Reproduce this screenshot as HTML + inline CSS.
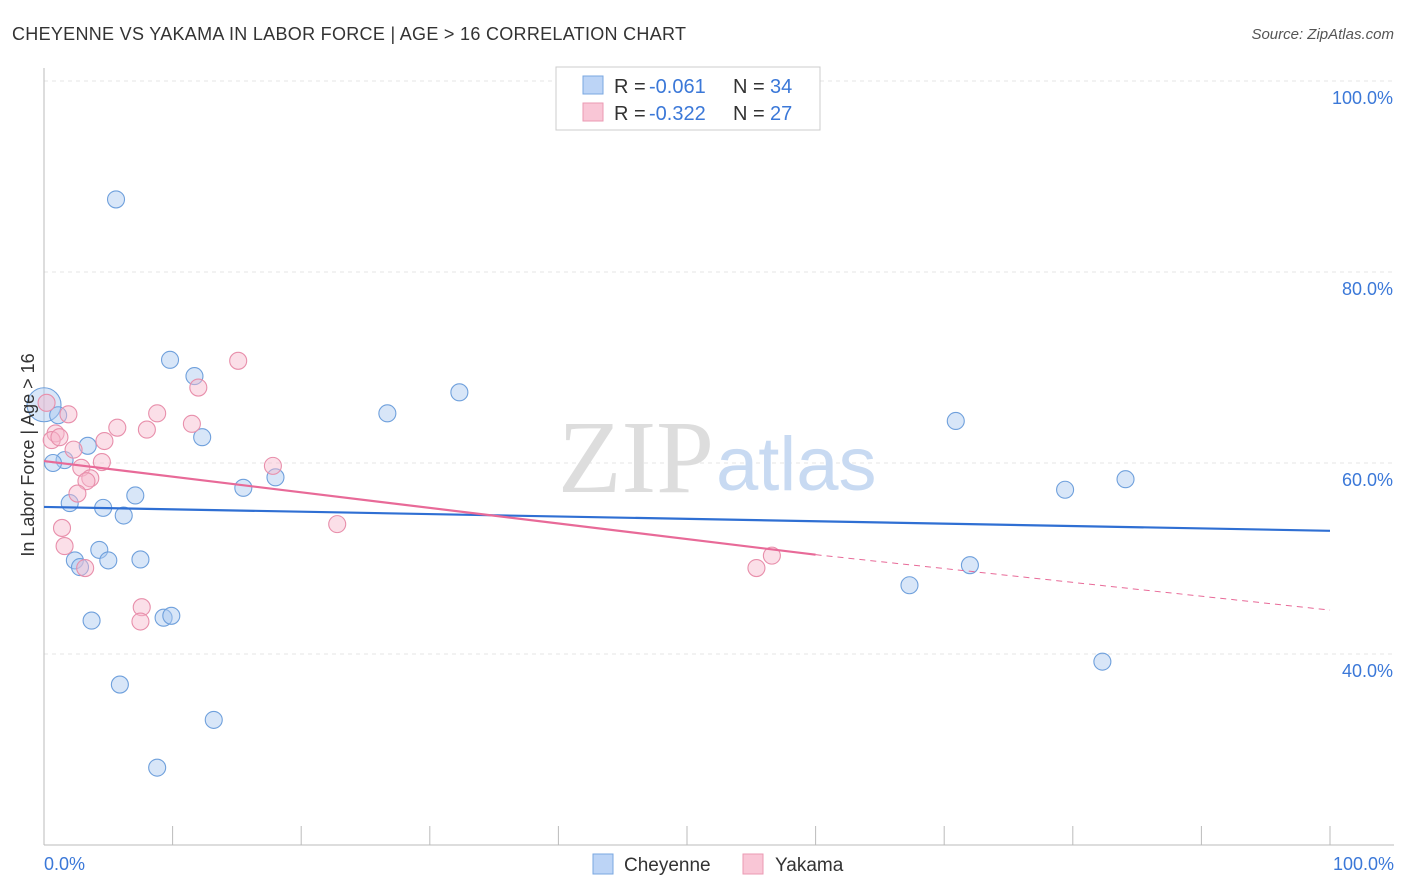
<!DOCTYPE html>
<html><head><meta charset="utf-8"><style>
body{margin:0;background:#fff;font-family:"Liberation Sans",sans-serif;}
svg{display:block}
</style></head><body>
<svg width="1406" height="892" xmlns="http://www.w3.org/2000/svg">
<text x="12" y="40" font-size="18" fill="#333" textLength="674">CHEYENNE VS YAKAMA IN LABOR FORCE | AGE &gt; 16 CORRELATION CHART</text>
<text x="1394" y="39" font-size="15" fill="#555" font-style="italic" text-anchor="end">Source: ZipAtlas.com</text>
<g id="grid"></g>
<g id="axes"></g>
<text x="714" y="492" font-size="104" font-family="Liberation Serif" fill="#ddd" text-anchor="end">ZIP</text>
<text x="716" y="490" font-size="76" fill="#c8daf2">atlas</text>
<g id="pts"></g>
<g id="trend"></g>
<text x="34" y="455" font-size="18" fill="#333" text-anchor="middle" transform="rotate(-90 34 455)">In Labor Force | Age &gt; 16</text>
<g>
<rect x="556" y="67" width="264" height="63" fill="#fff" stroke="#ccc"/>
<rect x="583" y="76" width="20" height="18" fill="#bcd4f6" stroke="#7aa7e0"/>
<rect x="583" y="103" width="20" height="18" fill="#f9c6d6" stroke="#eb9ab3"/>
<text x="614" y="93" font-size="20" fill="#333">R =</text>
<text x="649" y="93" font-size="20" fill="#3b78d8">-0.061</text>
<text x="733" y="93" font-size="20" fill="#333">N =</text>
<text x="770" y="93" font-size="20" fill="#3b78d8">34</text>
<text x="614" y="120" font-size="20" fill="#333">R =</text>
<text x="649" y="120" font-size="20" fill="#3b78d8">-0.322</text>
<text x="733" y="120" font-size="20" fill="#333">N =</text>
<text x="770" y="120" font-size="20" fill="#3b78d8">27</text>
</g>
<g>
<rect x="593" y="854" width="20" height="20" fill="#bcd4f6" stroke="#7aa7e0"/>
<text x="624" y="871" font-size="19" fill="#333">Cheyenne</text>
<rect x="743" y="854" width="20" height="20" fill="#f9c6d6" stroke="#eb9ab3"/>
<text x="775" y="871" font-size="19" fill="#333">Yakama</text>
</g>
<text x="44" y="870" font-size="18" fill="#3b78d8">0.0%</text>
<text x="1394" y="870" font-size="18" fill="#3b78d8" text-anchor="end">100.0%</text>
</svg>
<script>
const yTicks=[40,60,80,100];
const xTicks=[0,10,20,30,40,50,60,70,80,90,100];
const cheyX=[5.6,9.8,11.7,12.3,0,1.1,3.4,1.6,0.7,2.0,4.6,6.2,7.1,15.5,18.0,26.7,32.3,4.3,2.4,2.8,5.0,7.5,3.7,9.3,9.9,5.9,13.2,8.8,70.9,79.4,84.1,67.3,72.0,82.3];
const cheyY=[87.6,70.8,69.1,62.7,66.1,65.0,61.8,60.3,60.0,55.8,55.3,54.5,56.6,57.4,58.5,65.2,67.4,50.9,49.8,49.1,49.8,49.9,43.5,43.8,44.0,36.8,33.1,28.1,64.4,57.2,58.3,47.2,49.3,39.2];
const yakX=[15.1,12.0,8.8,11.5,8.0,5.7,4.7,1.9,0.9,0.6,1.2,2.3,4.5,2.9,3.6,3.3,2.6,17.8,1.4,1.6,3.2,7.6,7.5,22.8,56.6,55.4,0.2];
const yakY=[70.7,67.9,65.2,64.1,63.5,63.7,62.3,65.1,63.1,62.4,62.7,61.4,60.1,59.5,58.4,58.1,56.8,59.7,53.2,51.3,49.0,44.9,43.4,53.6,50.3,49.0,66.3];
const cheyTrend=[[0,55.4],[100,52.9]];
const yakTrend=[[0,60.2],[60,50.4],[100,44.6]];
const NS="http://www.w3.org/2000/svg";
const X=v=>44+v*12.86, Y=v=>654-(v-40)*9.55;
function mk(t,a,p){const e=document.createElementNS(NS,t);for(const k in a)e.setAttribute(k,a[k]);document.getElementById(p).appendChild(e);return e;}
yTicks.forEach(t=>{
 const l=mk('line',{x1:44,x2:1394,y1:Y(t),y2:Y(t),stroke:'#e6e6e6','stroke-dasharray':'4 4'},'grid');
 
 
 const tx=mk('text',{x:1393,y:Y(t)+23,'font-size':18,fill:'#3b78d8','text-anchor':'end'},'grid');
 tx.textContent=t.toFixed(1)+'%';
 
 
});
mk('line',{x1:44,x2:44,y1:68,y2:845,stroke:'#bbb'},'axes');
mk('line',{x1:44,x2:1394,y1:845,y2:845,stroke:'#bbb'},'axes');
xTicks.forEach(t=>{const l=mk('line',{x1:X(t),x2:X(t),y1:826,y2:845,stroke:'#bbb'},'axes');
 
 });
function pts(xs,ys,f,s,n){xs.forEach((x,i)=>{const c=mk('circle',{cx:X(x),cy:Y(ys[i]),r:(x===0&&n==='cheyenne')?17:8.5,fill:f,'fill-opacity':0.45,stroke:s,'stroke-width':1.1},'pts');
 
 });}
pts(cheyX,cheyY,'#a9c8f0','#6fa0dc','cheyenne');
pts(yakX,yakY,'#f7b9cc','#e88fab','yakama');
let l=mk('line',{x1:X(cheyTrend[0][0]),y1:Y(cheyTrend[0][1]),x2:X(cheyTrend[1][0]),y2:Y(cheyTrend[1][1]),stroke:'#2f6fd3','stroke-width':2.2},'trend');


l=mk('line',{x1:X(yakTrend[0][0]),y1:Y(yakTrend[0][1]),x2:X(yakTrend[1][0]),y2:Y(yakTrend[1][1]),stroke:'#e86a98','stroke-width':2.2},'trend');


l=mk('line',{x1:X(yakTrend[1][0]),y1:Y(yakTrend[1][1]),x2:X(yakTrend[2][0]),y2:Y(yakTrend[2][1]),stroke:'#e86a98','stroke-width':1,'stroke-dasharray':'6 5'},'trend');


</script>
</body></html>
